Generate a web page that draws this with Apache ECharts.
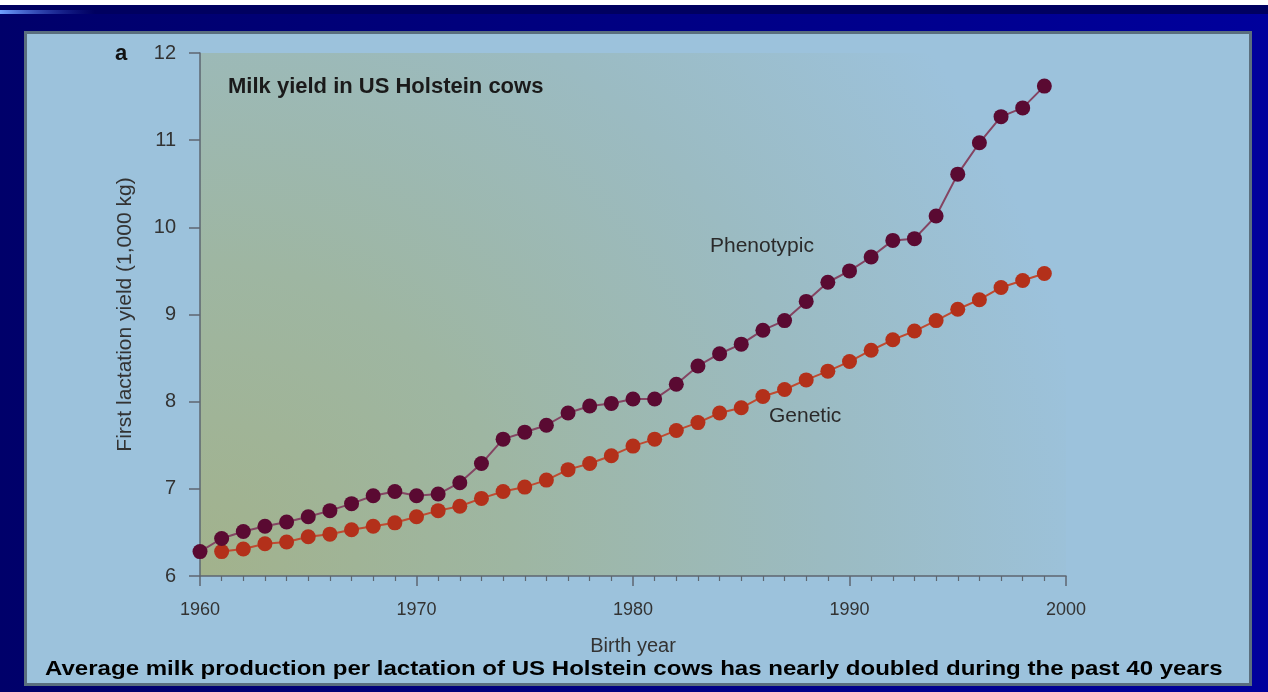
<!DOCTYPE html>
<html>
<head>
<meta charset="utf-8">
<script src="https://cdn.jsdelivr.net/npm/echarts@6/dist/echarts.min.js"></script>
<style>
  html, body { margin: 0; padding: 0; background: #00006e; }
  #chart { width: 1268px; height: 692px; }
</style>
</head>
<body>
<div id="chart"></div>
<script>
// birth years, 1960 - 1999
var years = [];
for (var y = 1960; y <= 1999; y++) years.push(y);

// first lactation yield (1,000 kg)
var phenotypic = [6.28, 6.43, 6.51, 6.57, 6.62, 6.68, 6.75, 6.83, 6.92, 6.97,
	6.92, 6.94, 7.07, 7.29, 7.57, 7.65, 7.73, 7.87, 7.95, 7.98,
	8.03, 8.03, 8.20, 8.41, 8.55, 8.66, 8.82, 8.93, 9.15, 9.37,
	9.50, 9.66, 9.85, 9.87, 10.13, 10.61, 10.97, 11.27, 11.37, 11.62];
var genetic = [null, 6.28, 6.31, 6.37, 6.39, 6.45, 6.48, 6.53, 6.57, 6.61,
	6.68, 6.75, 6.80, 6.89, 6.97, 7.02, 7.10, 7.22, 7.29, 7.38,
	7.49, 7.57, 7.67, 7.76, 7.87, 7.93, 8.06, 8.14, 8.25, 8.35,
	8.46, 8.59, 8.71, 8.81, 8.93, 9.06, 9.17, 9.31, 9.39, 9.47];

var xTicks = [1960, 1970, 1980, 1990, 2000];

function toPairs(vals) {
	var out = [];
	vals.forEach(function (v, i) {
		if (v !== null) out.push([years[i], v]);
	});
	return out;
}

var font = '"Liberation Sans", Arial, sans-serif';
var myChart = echarts.init(document.getElementById('chart'));

var option = {
	backgroundColor: {
		type: 'linear', x: 0, y: 0, x2: 1, y2: 0,
		colorStops: [{ offset: 0, color: '#00006a' }, { offset: 1, color: '#00009c' }]
	},
	animation: false,
	textStyle: { fontFamily: font },
	graphic: [
		{ type: 'rect', z: -10, shape: { x: 0, y: 0, width: 1268, height: 5 }, style: { fill: '#ffffff' } },
		{ type: 'rect', z: -10, shape: { x: 0, y: 5, width: 1268, height: 9 }, style: { fill: '#000060' } },
		{
			type: 'rect', z: -9, shape: { x: 0, y: 10, width: 95, height: 4 },
			style: {
				fill: {
					type: 'linear', x: 0, y: 0, x2: 1, y2: 0,
					colorStops: [{ offset: 0, color: '#6fa0ff' }, { offset: 1, color: 'rgba(40,60,200,0)' }]
				}
			}
		},
		{
			type: 'rect', z: -8,
			shape: { x: 25.5, y: 32.5, width: 1225, height: 652 },
			style: { fill: '#9cc2dc', stroke: '#5a6e7e', lineWidth: 3 }
		},
		{
			type: 'text', left: 115, top: 43,
			style: { text: 'a', font: 'bold 22px ' + font, fill: '#111' }
		},
		{
			type: 'text', left: 228, top: 76,
			style: { text: 'Milk yield in US Holstein cows', font: 'bold 22px ' + font, fill: '#1a1a1a' }
		},
		{
			type: 'text', left: 710, top: 236,
			style: { text: 'Phenotypic', font: '21px ' + font, fill: '#2a2a2a' }
		},
		{
			type: 'text', left: 769, top: 406,
			style: { text: 'Genetic', font: '21px ' + font, fill: '#2a2a2a' }
		},
		{
			type: 'text', x: 45, y: 659, scaleX: 1.145,
			style: {
				text: 'Average milk production per lactation of US Holstein cows has nearly doubled during the past 40 years',
				font: 'bold 21px ' + font, fill: '#000'
			}
		}
	],
	grid: {
		left: 200, right: 202, top: 53, bottom: 116,
		show: true,
		borderWidth: 0,
		backgroundColor: {
			type: 'radial', x: 200, y: 576, r: 900, global: true,
			colorStops: [
				{ offset: 0, color: '#a2b28c' },
				{ offset: 0.35, color: '#9eb6a2' },
				{ offset: 0.7, color: '#9bbbc2' },
				{ offset: 1, color: '#9cc2dc' }
			]
		}
	},
	xAxis: {
		type: 'value',
		min: 1960, max: 2000, interval: 10,
		name: 'Birth year',
		nameLocation: 'middle',
		nameGap: 60,
		nameTextStyle: { fontSize: 20, color: '#333', fontFamily: font },
		axisLine: { show: true, lineStyle: { color: '#5d6670', width: 1.5 } },
		axisTick: { show: true, length: 10, lineStyle: { color: '#5d6670', width: 1.5 } },
		minorTick: { show: true, splitNumber: 10, length: 5, lineStyle: { color: '#5d6670', width: 1.2 } },
		splitLine: { show: false },
		axisLabel: {
			margin: 25, fontSize: 18, color: '#333', fontFamily: font,
			customValues: xTicks,
			formatter: function (v) { return String(v); }
		}
	},
	yAxis: {
		type: 'value',
		min: 6, max: 12, interval: 1,
		name: 'First lactation yield (1,000 kg)',
		nameLocation: 'middle',
		nameGap: 64,
		nameTextStyle: { fontSize: 21, color: '#333', fontFamily: font },
		axisLine: { show: true, lineStyle: { color: '#5d6670', width: 1.5 } },
		axisTick: { show: true, length: 11, lineStyle: { color: '#5d6670', width: 1.5 } },
		splitLine: { show: false },
		axisLabel: { margin: 24, fontSize: 20, color: '#333', fontFamily: font }
	},
	series: [
		{
			name: 'Genetic',
			type: 'line',
			data: toPairs(genetic),
			symbol: 'circle',
			symbolSize: 15,
			itemStyle: { color: '#b3301a' },
			lineStyle: { color: '#c04a30', width: 2 },
			z: 2
		},
		{
			name: 'Phenotypic',
			type: 'line',
			data: toPairs(phenotypic),
			symbol: 'circle',
			symbolSize: 15,
			itemStyle: { color: '#5a0a32' },
			lineStyle: { color: '#844462', width: 2 },
			z: 3
		}
	]
};

if (option && typeof option === "object") {
	myChart.setOption(option, true);
}
</script>
</body>
</html>
